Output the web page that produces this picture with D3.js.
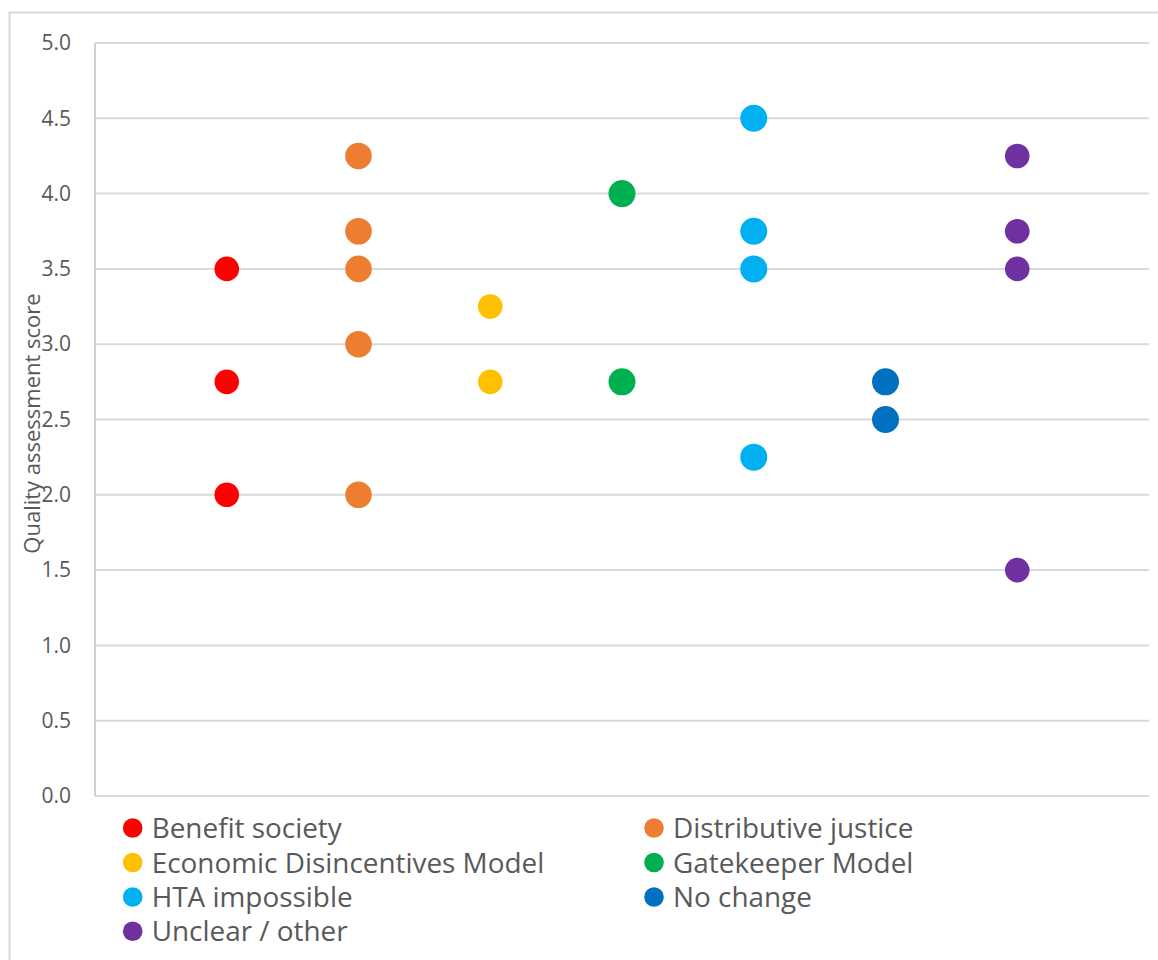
<!DOCTYPE html>
<html>
<head>
<meta charset="utf-8">
<script src="https://cdn.jsdelivr.net/npm/d3@7"></script>
<style>
  html, body { margin: 0; padding: 0; background: #ffffff; }
  svg { display: block; }
  text { font-family: "Open Sans", "Noto Sans", sans-serif; fill: #595959; }
</style>
</head>
<body>
<svg id="chart" width="1158" height="960"></svg>
<script>
// Series names (legend order) and their x slot on the category axis
const seriesNames = [
  "Benefit society",
  "Distributive justice",
  "Economic Disincentives Model",
  "Gatekeeper Model",
  "HTA impossible",
  "No change",
  "Unclear / other"
];
const seriesSlot = [1, 2, 3, 4, 5, 6, 7];

// Quality assessment scores per series
const benefitSociety      = [3.5, 2.75, 2.0];
const distributiveJustice = [4.25, 3.75, 3.5, 3.0, 2.0];
const economicDisincent   = [3.25, 2.75];
const gatekeeperModel     = [4.0, 2.75];
const htaImpossible       = [4.5, 3.75, 3.5, 2.25];
const noChange            = [2.75, 2.5];
const unclearOther        = [4.25, 3.75, 3.5, 1.5];

const seriesValues = [
  benefitSociety, distributiveJustice, economicDisincent, gatekeeperModel,
  htaImpossible, noChange, unclearOther
];

// y-axis tick labels
const yTicks = [0, 0.5, 1.0, 1.5, 2.0, 2.5, 3.0, 3.5, 4.0, 4.5, 5.0];

// Styling
const colors = ["#FF0000", "#ED7D31", "#FFC000", "#00B050", "#00B0F0", "#0070C0", "#7030A0"];
const radii  = [12.3, 13.3, 12.3, 13.5, 13.5, 13.5, 12.3];

const svg = d3.select("#chart");

// Outer chart frame
svg.append("rect")
  .attr("x", 9.5).attr("y", 12.5)
  .attr("width", 1170).attr("height", 980)
  .attr("fill", "none").attr("stroke", "#d9d9d9").attr("stroke-width", 2);

const plot = { left: 95, right: 1149, top: 43, bottom: 796 };

const x = d3.scaleLinear().domain([0, 8]).range([plot.left, plot.right]);
const y = d3.scaleLinear().domain([0, 5]).range([plot.bottom, plot.top]);

// Horizontal gridlines
svg.append("g")
  .selectAll("line")
  .data(yTicks)
  .join("line")
  .attr("x1", plot.left).attr("x2", plot.right)
  .attr("y1", d => y(d)).attr("y2", d => y(d))
  .attr("stroke", "#d9d9d9").attr("stroke-width", 2);

// Vertical axis line
svg.append("line")
  .attr("x1", plot.left).attr("x2", plot.left)
  .attr("y1", y(5)).attr("y2", y(0))
  .attr("stroke", "#d0d0d0").attr("stroke-width", 2);

// y-axis tick labels
const yAxis = d3.axisLeft(y)
  .tickValues(yTicks)
  .tickFormat(d3.format(".1f"))
  .tickSize(0)
  .tickPadding(24);
const yAxisG = svg.append("g")
  .attr("transform", `translate(${plot.left},0)`)
  .call(yAxis);
yAxisG.select(".domain").remove();
yAxisG.selectAll("text")
  .style("font-family", "'Open Sans', sans-serif")
  .style("font-size", "21px")
  .attr("fill", "#595959");

// y-axis title
svg.append("text")
  .attr("transform", `translate(40,${(plot.top + plot.bottom) / 2 + 4}) rotate(-90)`)
  .attr("text-anchor", "middle")
  .style("font-size", "22px")
  .text("Quality assessment score");

// Points
const points = seriesValues.flatMap((vals, i) =>
  vals.map(v => ({ s: i, slot: seriesSlot[i], v })));

svg.append("g")
  .selectAll("circle")
  .data(points)
  .join("circle")
  .attr("cx", d => x(d.slot))
  .attr("cy", d => y(d.v))
  .attr("r", d => radii[d.s])
  .attr("fill", d => colors[d.s]);

// Legend: two columns
const legend = svg.append("g");
const colX = [132.7, 654];
const rowY = [828, 862.5, 897, 931.2];
seriesNames.forEach((name, i) => {
  const cx = colX[i % 2];
  const cy = rowY[Math.floor(i / 2)];
  const g = legend.append("g");
  g.append("circle").attr("cx", cx).attr("cy", cy).attr("r", 9.8).attr("fill", colors[i]);
  g.append("text")
    .attr("x", cx + 19)
    .attr("y", cy)
    .attr("dy", "0.36em")
    .style("font-size", "27.9px")
    .text(name);
});
</script>
</body>
</html>
